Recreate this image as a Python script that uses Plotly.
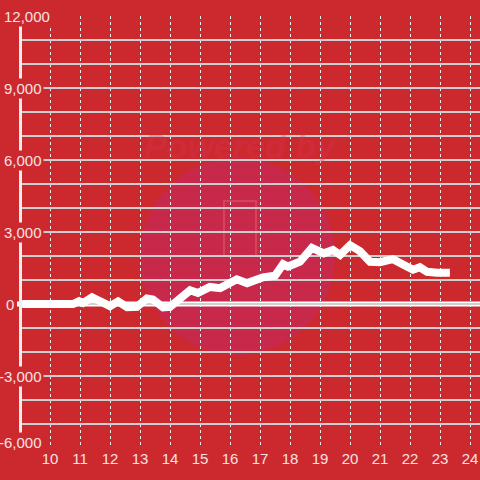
import plotly.graph_objects as go

# ---- data (hours of day, value) ----
hours = [9.07, 10.77, 10.97, 11.1, 11.4, 11.67, 12.0, 12.27, 12.57, 12.9, 13.23, 13.43,
         13.77, 14.0, 14.33, 14.67, 14.93, 15.33, 15.67, 16.23, 16.57, 17.1, 17.5,
         17.77, 17.93, 18.33, 18.73, 19.13, 19.43, 19.67, 20.0, 20.33, 20.67, 21.0,
         21.43, 21.83, 22.1, 22.33, 22.57, 22.9, 23.33]
values = [0, 0, 120, 40, 280, 120, -90, 110, -130, -120, 230, 190,
          -140, -120, 170, 570, 460, 710, 660, 1030, 870, 1110, 1180,
          1660, 1560, 1760, 2340, 2110, 2250, 2050, 2450, 2200, 1760, 1740,
          1870, 1660, 1430, 1530, 1340, 1300, 1300]

x_ticks = list(range(10, 25))
y_label_vals = [12000, 9000, 6000, 3000, 0, -3000, -6000]
y_label_text = ["12,000", "9,000", "6,000", "3,000", "0", "-3,000", "-6,000"]

BG = "#cc292e"
TXT = "#f6e2e2"
FONT = "Liberation Sans"
FS = 15
W, H = 480, 480
L, R, T, B = 22, 0, 16, 32
PW = W - L - R
PH = H - T - B

def px_to_paper(px):
    return (px - L) / PW

def py_to_paper(py):
    return 1 - (py - T) / PH

fig = go.Figure()
fig.add_trace(go.Scatter(
    x=hours, y=values, mode="lines",
    line=dict(color="#ffffff", width=8, shape="linear"),
    hoverinfo="skip", showlegend=False,
))

shapes = [
    # watermark circle
    dict(type="circle", xref="paper", yref="paper", layer="below",
         x0=px_to_paper(140), x1=px_to_paper(335),
         y0=py_to_paper(355), y1=py_to_paper(158),
         fillcolor="#c8284a", line=dict(width=0)),
    # watermark logo outline
    dict(type="rect", xref="paper", yref="paper", layer="below",
         x0=px_to_paper(224), x1=px_to_paper(256),
         y0=py_to_paper(256), y1=py_to_paper(201),
         fillcolor="rgba(0,0,0,0)", line=dict(width=2, color="#d3445a")),
    # zero line extended slightly to the left
    dict(type="line", xref="paper", yref="y", layer="between",
         x0=px_to_paper(17), x1=1, y0=0, y1=0,
         line=dict(color="#ffffff", width=5)),
]

label_right = {"12,000": 52, "0": 16}
label_shift = {"-6,000": 6}
annotations = []
for v, t in zip(y_label_vals, y_label_text):
    annotations.append(dict(
        xref="paper", yref="y", x=px_to_paper(label_right.get(t, 44)), y=v,
        xanchor="right", yanchor="middle", text=t, showarrow=False,
        yshift=label_shift.get(t, 0),
        font=dict(family=FONT, size=FS, color=TXT),
        bgcolor=BG, borderpad=1,
    ))
annotations.append(dict(
    xref="paper", yref="paper", x=px_to_paper(240), y=py_to_paper(125),
    text="<b><i>Powered by</i></b>", showarrow=False,
    font=dict(family=FONT, size=34, color="rgba(215,50,90,0.3)"),
))

fig.update_layout(
    width=W, height=H,
    margin=dict(l=L, r=R, t=T, b=B, pad=0),
    paper_bgcolor=BG, plot_bgcolor=BG,
    shapes=shapes, annotations=annotations,
    showlegend=False,
    xaxis=dict(
        range=[10 - (50 - L) / 30, 10 + (W - 50) / 30],
        tickvals=x_ticks, ticktext=[str(t) for t in x_ticks],
        showgrid=True, gridcolor="#eeeeee", gridwidth=1, griddash="3px,3px",
        zeroline=False, showline=False, ticks="",
        tickfont=dict(family=FONT, size=FS, color=TXT),
        fixedrange=True,
    ),
    yaxis=dict(
        range=[-6000, 12000], dtick=1000, tick0=0,
        showgrid=True, gridcolor="#cfcfcf", gridwidth=1.5,
        zeroline=False, showline=True, linecolor="#eeeeee", linewidth=3,
        showticklabels=False, ticks="",
        fixedrange=True,
    ),
)

fig.write_html("out.html", config={"displayModeBar": False})

with open("out.html", "r", encoding="utf-8") as f:
    html = f.read()
html = html.replace("<head>", "<head><style>html,body{margin:0;padding:0;overflow:hidden;background:%s;}</style>" % BG, 1)
with open("out.html", "w", encoding="utf-8") as f:
    f.write(html)
